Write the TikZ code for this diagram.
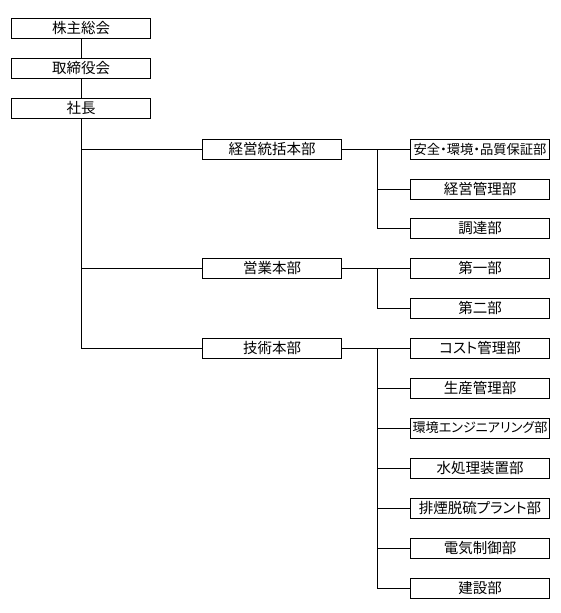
\documentclass[tikz,border=0pt]{standalone}
\usepackage{fontspec}
\setmainfont{Noto Sans CJK JP}[RawFeature=+palt]
\begin{document}
\begin{tikzpicture}[x=1pt,y=-1pt,
  box/.style={draw,line width=0.9pt,minimum width=139pt,minimum height=20pt,inner sep=0pt,font=\fontsize{14.5}{15}\selectfont},
  conn/.style={line width=0.9pt}]
\useasboundingbox (0,0) rectangle (560,613);
\node[box] (k1) at (81,28) {株主総会};
\node[box] (k2) at (81,68) {取締役会};
\node[box] (k3) at (81,108) {社長};
\node[box] (h1) at (272,149) {経営統括本部};
\node[box] (h2) at (272,268) {営業本部};
\node[box] (h3) at (272,348) {技術本部};
\node[box,font=\fontsize{13.3}{15}\selectfont] (a1) at (480,149) {安全・環境・品質保証部};
\node[box] (a2) at (480,189) {経営管理部};
\node[box] (a3) at (480,228) {調達部};
\node[box] (b1) at (480,268) {第一部};
\node[box] (b2) at (480,308) {第二部};
\node[box] (c1) at (480,348) {コスト管理部};
\node[box] (c2) at (480,388) {生産管理部};
\node[box,font=\fontsize{13.1}{15}\selectfont] (c3) at (480,428) {環境エンジニアリング部};
\node[box] (c4) at (480,468) {水処理装置部};
\node[box] (c5) at (480,508) {排煙脱硫プラント部};
\node[box] (c6) at (480,548) {電気制御部};
\node[box] (c7) at (480,588) {建設部};
\coordinate (t3) at (81,348);
\coordinate (ta) at (377,149);
\coordinate (tb) at (377,268);
\coordinate (tc) at (377,348);
\draw[conn] (k1) -- (k2);
\draw[conn] (k2) -- (k3);
\draw[conn] (k3.south) -- (t3) -- (h3.west);
\draw[conn] (k3.south |- h1.west) -- (h1.west);
\draw[conn] (k3.south |- h2.west) -- (h2.west);
\draw[conn] (h1.east) -- (a1.west);
\draw[conn] (ta) |- (a3.west);
\draw[conn] (ta |- a2.west) -- (a2.west);
\draw[conn] (h2.east) -- (b1.west);
\draw[conn] (tb) |- (b2.west);
\draw[conn] (h3.east) -- (c1.west);
\draw[conn] (tc) |- (c7.west);
\foreach \n in {c2,c3,c4,c5,c6} \draw[conn] (tc |- \n.west) -- (\n.west);
\end{tikzpicture}
\end{document}
